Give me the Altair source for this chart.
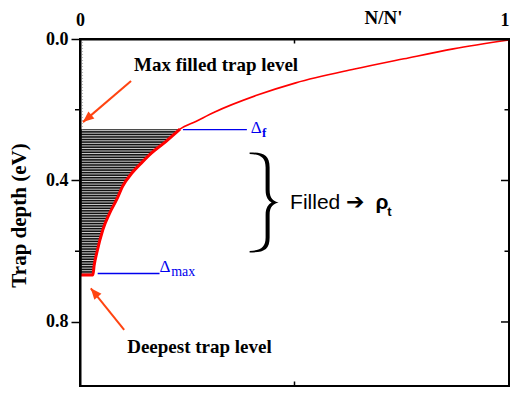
import altair as alt
import numpy as np
import pandas as pd

# ---- data -----------------------------------------------------------------
# red curve: N/N' (x) versus trap depth in eV (d)
curve_x = [0.030, 0.033, 0.039, 0.053, 0.068, 0.085, 0.100, 0.121, 0.145, 0.167,
           0.200, 0.233, 0.270, 0.313, 0.410, 0.503, 0.640, 0.755, 0.870, 1.000]
curve_d = [0.667, 0.640, 0.605, 0.540, 0.495, 0.455, 0.415, 0.379, 0.348, 0.322,
           0.290, 0.255, 0.233, 0.207, 0.160, 0.124, 0.085, 0.056, 0.028, 0.003]
delta_f = 0.255     # max filled trap level
delta_max = 0.667   # deepest trap level

y_major = [0.0, 0.4, 0.8]
y_minor = [0.2, 0.6]
x_tick_values = [0.0, 0.5, 1.0]
x_label_values = [0, 1]

# annotation texts (x in N/N', d in eV)
note_text = ["Max filled trap level", "Deepest trap level"]
note_x = [0.126, 0.110]
note_d = [0.091, 0.887]

# arrows: start -> tip, head angle (deg, clockwise from up)
arrow_x1 = [0.119, 0.103]
arrow_d1 = [0.119, 0.822]
arrow_x2 = [0.0069, 0.0252]
arrow_d2 = [0.235, 0.705]
arrow_angle = [230, 320]

# blue level markers
level_x1 = [0.240, 0.0412]
level_x2 = [0.389, 0.1854]
level_d = [0.256, 0.663]

# ---- scales -----------------------------------------------------------------
W, H = 429, 347
D_MAX = 0.981          # bottom edge of the (cropped) frame, eV
xs = alt.Scale(domain=[0, 1], nice=False, zero=False)
ys = alt.Scale(domain=[0, D_MAX], nice=False, zero=False, reverse=True)
SERIF = "Liberation Serif"
SANS = "Liberation Sans"
RED = "#ff0000"
BLUE = "#0000ee"
ORANGE = "#ff4411"

curve_df = pd.DataFrame({"x": curve_x, "d": curve_d})
fill_df = curve_df[curve_df["d"] >= delta_f]

yaxis = alt.Axis(
    values=y_major, format=".1f",
    title="Trap depth (eV)", titleFont=SERIF, titleFontWeight="bold", titleFontSize=21,
    titleColor="black", titleX=-55, titleY=176, titleBaseline="alphabetic", titleAngle=270,
    titleAlign="center",
    labelFont=SERIF, labelFontWeight="bold", labelFontSize=18, labelColor="black",
    labelPadding=3, tickColor="black", tickWidth=1.5, tickSize=9,
    domainColor="black", domainWidth=2, grid=False, zindex=1,
)
xaxis = alt.Axis(
    orient="top", values=x_label_values, format="d", ticks=False,
    labelFont=SERIF, labelFontWeight="bold", labelFontSize=18, labelColor="black",
    labelPadding=10, labelFlush=False,
    labelAlign={"condition": {"test": "datum.value == 1", "value": "right"}, "value": "center"},
    title="N/N'", titleFont=SERIF, titleFontWeight="bold", titleFontSize=19,
    titleColor="black", titleX=303, titleY=-16, titleBaseline="alphabetic", titleAlign="center",
    domainColor="black", domainWidth=2, grid=False, zindex=1,
)


def X(f):
    return alt.X(f, scale=xs)


def Y(f):
    return alt.Y(f, scale=ys)


# filled region (black) with white hatch gaps
area = alt.Chart(fill_df).mark_area(orient="horizontal", color="#111111", opacity=1,
                                    interpolate="monotone").encode(
    y=alt.Y("d:Q", scale=ys, axis=yaxis),
    x=alt.X("x:Q", scale=xs, axis=xaxis),
    x2=alt.datum(0),
)
hatch_df = pd.DataFrame({"d": np.arange(delta_f + 0.004, delta_max - 0.002, 0.0072)})
hatch_df["x0"] = 0.004
hatch_df["x1"] = 0.25
hatch = alt.Chart(hatch_df).mark_rule(color="white", strokeWidth=0.8).encode(
    x=X("x0:Q"), x2="x1", y=Y("d:Q"))

# faint dotted line next to the left axis above the fill
dot_df = pd.DataFrame({"x": [0.006], "d0": [0.0], "d1": [delta_f]})
dotted = alt.Chart(dot_df).mark_rule(color="#b0b0b0", strokeDash=[1, 2], strokeWidth=1).encode(
    x=X("x:Q"), y=Y("d0:Q"), y2="d1")

line = alt.Chart(curve_df).mark_line(color=RED, strokeWidth=1.6, interpolate="monotone").encode(
    x=X("x:Q"), y=Y("d:Q"))
edge_df = pd.concat([pd.DataFrame({"x": [0.0], "d": [delta_max]}), fill_df], ignore_index=True)
edge = alt.Chart(edge_df).mark_line(color=RED, strokeWidth=3, interpolate="monotone").encode(
    x=X("x:Q"), y=Y("d:Q"))

# blue level lines and labels
lev_df = pd.DataFrame({"x1": level_x1, "x2": level_x2, "d": level_d})
levels = alt.Chart(lev_df).mark_rule(color=BLUE, strokeWidth=1.3).encode(
    x=X("x1:Q"), x2="x2", y=Y("d:Q"))


def txt(texts, xv, dv, **kw):
    df = pd.DataFrame({"t": texts, "x": xv, "d": dv})
    base = dict(align="left", baseline="alphabetic")
    base.update(kw)
    return alt.Chart(df).mark_text(**base).encode(x=X("x:Q"), y=Y("d:Q"), text="t:N")


delta_big = txt(["Δ", "Δ"], [0.398, 0.1854], [0.267, 0.658], font=SERIF, fontSize=17, color=BLUE)
sub_f = txt(["f"], [0.424], [0.277], font=SERIF, fontSize=13, fontWeight="bold", color=BLUE)
sub_max = txt(["max"], [0.2125], [0.671], font=SERIF, fontSize=14, color=BLUE)

notes = txt(note_text, note_x, note_d, font=SERIF, fontSize=19, fontWeight="bold", color="black")

# arrows
arr_df = pd.DataFrame({"x1": arrow_x1, "d1": arrow_d1, "x2": arrow_x2, "d2": arrow_d2,
                       "a": arrow_angle})
arr_lines = alt.Chart(arr_df).mark_rule(color=ORANGE, strokeWidth=2).encode(
    x=X("x1:Q"), y=Y("d1:Q"), x2="x2", y2="d2")
arr_heads = alt.Chart(arr_df).mark_point(
    shape="M0,0 L-0.42,1 L0.42,1 Z", filled=True, size=484, color=ORANGE, opacity=1
).encode(x=X("x2:Q"), y=Y("d2:Q"), angle=alt.Angle("a:Q", scale=None))

# curly brace and "Filled -> rho_t"
BRACE = ("M-0.28,-1 C0,-1 0.12,-0.95 0.12,-0.7 L0.12,-0.25 C0.12,-0.08 0.2,-0.02 0.3,0 "
         "C0.2,0.02 0.12,0.08 0.12,0.25 L0.12,0.7 C0.12,0.95 0,1 -0.28,1 "
         "L-0.28,0.97 C-0.06,0.96 0.04,0.9 0.04,0.7 L0.04,0.25 C0.04,0.1 0.1,0.03 0.16,0 "
         "C0.1,-0.03 0.04,-0.1 0.04,-0.25 L0.04,-0.7 C0.04,-0.9 -0.06,-0.96 -0.28,-0.97 Z")
brace_df = pd.DataFrame({"x": [0.428], "d": [0.462]})
brace = alt.Chart(brace_df).mark_point(
    shape=BRACE, filled=True, size=10000, color="black", opacity=1, strokeWidth=0
).encode(x=X("x:Q"), y=Y("d:Q"))

filled_txt = txt(["Filled"], [0.4897], [0.4816], font=SANS, fontSize=21, color="black")
arrow_txt = txt(["➔"], [0.620], [0.462], font="DejaVu Sans", fontSize=22, fontWeight="bold",
                color="black", baseline="middle")
rho_txt = txt(["ρ"], [0.689], [0.4816], font=SANS, fontSize=21, fontWeight="bold", color="black")
t_txt = txt(["t"], [0.716], [0.5014], font=SANS, fontSize=13, fontWeight="bold", color="black")

# minor outward ticks on the left axis, inward ticks on mirrored right/top/bottom axes
MAJ_X, MIN_X = 8 / W, 4.5 / W
MAJ_Y, MIN_Y = 9 * D_MAX / H, 4.5 * D_MAX / H
lt = pd.DataFrame({"d": y_minor})
lt["x0"] = -5 / W
lt["x1"] = 0.0
left_minor = alt.Chart(lt).mark_rule(color="black", strokeWidth=1.5).encode(
    x=X("x0:Q"), x2="x1", y=Y("d:Q"))
rt = pd.DataFrame({"d": y_minor + y_major[1:]})
rt["x1"] = 1.0
rt["x0"] = [1 - (MIN_X if v in y_minor else MAJ_X) for v in rt["d"]]
right_ticks = alt.Chart(rt).mark_rule(color="black", strokeWidth=1.5).encode(
    x=X("x0:Q"), x2="x1", y=Y("d:Q"))
tt = pd.DataFrame({"x": x_tick_values})
tt["d0"] = 0.0
tt["d1"] = [MIN_Y if v == 0.5 else MAJ_Y for v in tt["x"]]
tt["b0"] = D_MAX
tt["b1"] = [D_MAX - (MIN_Y if v == 0.5 else MAJ_Y) for v in tt["x"]]
top_ticks = alt.Chart(tt).mark_rule(color="black", strokeWidth=1.5).encode(
    x=X("x:Q"), y=Y("d0:Q"), y2="d1")
bot_ticks = alt.Chart(tt).mark_rule(color="black", strokeWidth=1.5).encode(
    x=X("x:Q"), y=Y("b0:Q"), y2="b1")

chart = alt.layer(
    area, hatch, dotted, line, edge, levels, delta_big, sub_f, sub_max, notes,
    arr_lines, arr_heads, brace, filled_txt, arrow_txt, rho_txt, t_txt,
    left_minor, right_ticks, top_ticks, bot_ticks,
).properties(
    width=W, height=H,
    autosize=alt.AutoSizeParams(type="none"),
    padding={"left": 72, "top": 31, "right": 1, "bottom": 1},
    background="white",
).configure_view(
    stroke="black", strokeWidth=2
).configure_axis(
    titleColor="black", labelColor="black"
)

chart.save("out.html", embed_options={"renderer": "svg", "actions": False})
